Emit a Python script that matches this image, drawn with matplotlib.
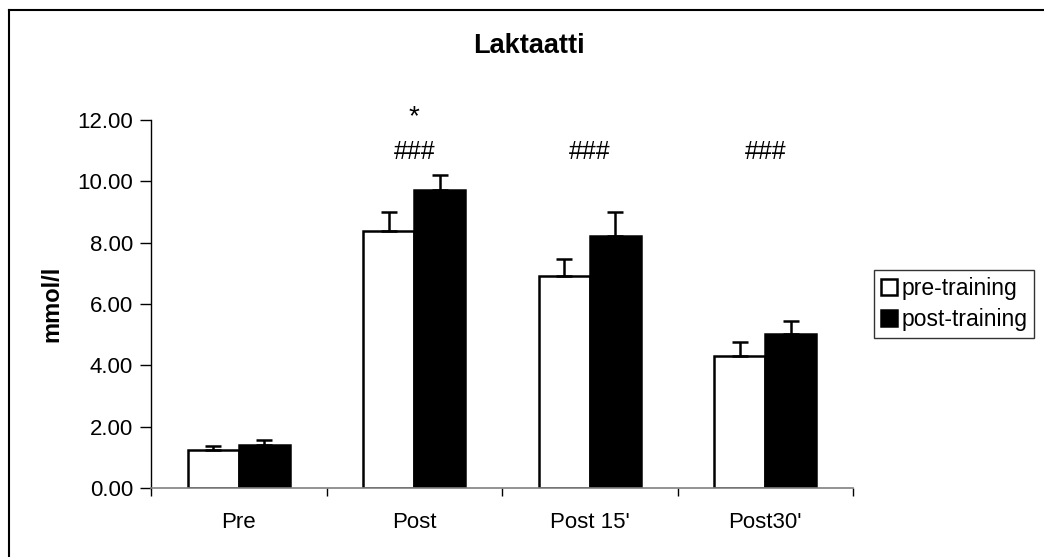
import matplotlib
matplotlib.use("Agg")
import matplotlib.pyplot as plt
from matplotlib.lines import Line2D
from matplotlib.patches import Patch
import numpy as np

plt.rcParams['font.family'] = ['Liberation Sans', 'DejaVu Sans']

categories = ["Pre", "Post", "Post 15'", "Post30'"]
pre_training = [1.24, 8.39, 6.91, 4.30]
pre_err = [0.13, 0.62, 0.55, 0.47]
post_training = [1.40, 9.71, 8.22, 5.03]
post_err = [0.16, 0.49, 0.77, 0.43]
hash_marks = ["", "###", "###", "###"]
star_marks = ["", "*", "", ""]
yticks = [0, 2, 4, 6, 8, 10, 12]

W, H = 1044, 557
fig = plt.figure(figsize=(W / 100, H / 100), dpi=100)
ax = fig.add_axes([151 / W, 1 - 488 / H, (853 - 151) / W, (488 - 120) / H])

x = np.arange(len(categories))
bw = 0.29
ekw = dict(ecolor='black', elinewidth=1.8, capsize=5.5, capthick=1.8)
zeros = [0] * len(categories)
ax.bar(x - bw / 2, pre_training, bw, color='white', edgecolor='black', linewidth=1.8,
       yerr=[zeros, pre_err], error_kw=ekw, label='pre-training', zorder=2)
ax.bar(x + bw / 2, post_training, bw, color='black', edgecolor='black', linewidth=1.8,
       yerr=[zeros, post_err], error_kw=ekw, label='post-training', zorder=2)

ax.set_xlim(-0.5, len(categories) - 0.5)
ax.set_ylim(0, 12)
ax.set_yticks(yticks)
ax.set_yticklabels([f"{v:.2f}" for v in yticks], fontsize=16)
ax.set_xticks(x)
ax.set_xticklabels(categories, fontsize=16)
ax.tick_params(axis='x', length=0, pad=17)
ax.set_xticks(np.arange(len(categories) + 1) - 0.5, minor=True)
ax.tick_params(axis='x', which='minor', length=6, direction='out', color='black', width=1)
ax.tick_params(axis='y', length=8, direction='out', width=1, pad=5)
for s in ['top', 'right']:
    ax.spines[s].set_visible(False)
ax.spines['left'].set_linewidth(1)
ax.spines['bottom'].set_color('#808080')
ax.spines['bottom'].set_linewidth(1.2)
ax.set_ylabel('mmol/l', fontsize=17, fontweight='bold', labelpad=10)

for i in range(len(categories)):
    if hash_marks[i]:
        ax.text(x[i], 10.95, hash_marks[i], ha='center', va='center', fontsize=18, clip_on=False)
    if star_marks[i]:
        ax.text(x[i], 12.1, star_marks[i], ha='center', va='center', fontsize=20, clip_on=False)

fig.text(529 / W, 1 - 46 / H, 'Laktaatti', ha='center', va='center', fontsize=19.5, fontweight='bold')

handles = [Patch(facecolor='white', edgecolor='black', linewidth=1.8, label='pre-training'),
           Patch(facecolor='black', edgecolor='black', linewidth=1.8, label='post-training')]
leg = fig.legend(handles=handles, loc='upper left', bbox_to_anchor=(874 / W, 1 - 270 / H),
                 fontsize=16.5, frameon=True, fancybox=False, handlelength=0.7, handleheight=0.7,
                 handletextpad=0.2, borderpad=0.3, labelspacing=0.35, borderaxespad=0)
leg.get_frame().set_edgecolor('black')
leg.get_frame().set_linewidth(1)

# outer chart frame (left and top edges visible)
fig.add_artist(Line2D([8.5 / W, 8.5 / W], [0, 1 - 10 / H], color='black', linewidth=1.5, transform=fig.transFigure))
fig.add_artist(Line2D([8.5 / W, 1], [1 - 10 / H, 1 - 10 / H], color='black', linewidth=1.5, transform=fig.transFigure))

fig.savefig('out.png', dpi=100)
